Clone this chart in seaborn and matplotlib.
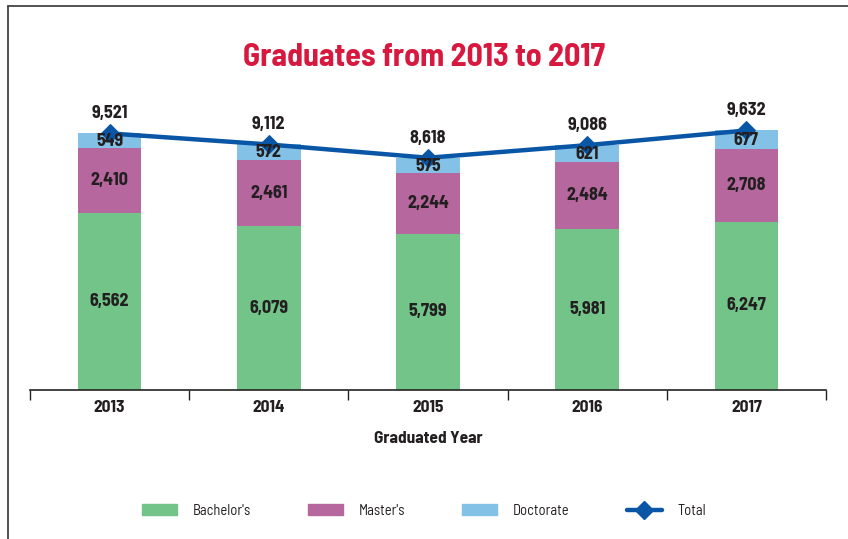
import numpy as np
import pandas as pd
import matplotlib
matplotlib.use("Agg")
import matplotlib.pyplot as plt
import seaborn as sns
from matplotlib.lines import Line2D
from matplotlib.patches import Patch

# Дані
years = ["2013", "2014", "2015", "2016", "2017"]
bachelors = [6562, 6079, 5799, 5981, 6247]
masters = [2410, 2461, 2244, 2484, 2708]
doctorate = [549, 572, 575, 621, 677]
totals = [9521, 9112, 8618, 9086, 9632]

GREEN = "#72C488"
PURPLE = "#B5679E"
BLUE = "#84C1E6"
LINE = "#0A56A6"
TITLE_RED = "#D7193F"
TXT = "#231F20"

sns.set_theme(style="white")
plt.rcParams['font.family'] = ['Barlow Semi Condensed', 'DejaVu Sans']

df = pd.DataFrame({"year": years, "Bachelor's": bachelors,
                   "Master's": masters, "Doctorate": doctorate, "Total": totals})
df["bm"] = df["Bachelor's"] + df["Master's"]
df["bmd"] = df["bm"] + df["Doctorate"]

fig = plt.figure(figsize=(8.48, 5.39), dpi=100)
ax = fig.add_axes([0.0354, 0.2764, 0.9386, 0.63])

# стовпці накладаються: спочатку повна висота
sns.barplot(data=df, x="year", y="bmd", color=BLUE, width=0.4, saturation=1, ax=ax)
sns.barplot(data=df, x="year", y="bm", color=PURPLE, width=0.4, saturation=1, ax=ax)
sns.barplot(data=df, x="year", y="Bachelor's", color=GREEN, width=0.4, saturation=1, ax=ax)
for p in ax.patches:
    p.set_edgecolor("none")

pos = np.arange(len(years))
sns.lineplot(x=pos, y=df["Total"], color=LINE, lw=3.2, marker="D", markersize=9,
             markeredgecolor=LINE, ax=ax)

# підписи сегментів
for i in range(len(years)):
    b, m, d, t = bachelors[i], masters[i], doctorate[i], totals[i]
    ax.text(i, b / 2, f"{b:,}", ha="center", va="center", fontsize=13,
            fontweight="bold", color=TXT)
    ax.text(i, b + m / 2, f"{m:,}", ha="center", va="center", fontsize=13,
            fontweight="bold", color=TXT)
    ax.text(i, b + m + d / 2 - 30, f"{d:,}", ha="center", va="center", fontsize=13,
            fontweight="bold", color=TXT)
    ax.annotate(f"{t:,}", (i, t), xytext=(0, 8), textcoords="offset points",
                ha="center", va="bottom", fontsize=13, fontweight="bold", color=TXT)

ax.set_xlim(-0.5, len(years) - 0.5)
ax.set_ylim(0, 12600)
ax.set_yticks([])
ax.set_ylabel("")
for s in ["left", "right", "top"]:
    ax.spines[s].set_visible(False)
ax.spines["bottom"].set_color("#222222")
ax.spines["bottom"].set_linewidth(1.2)

ax.set_xticks(pos)
ax.set_xticklabels(years, fontsize=12.5, fontweight="bold", color=TXT)
ax.set_xticks(np.arange(-0.5, len(years)), minor=True)
ax.tick_params(axis="x", which="major", length=0, pad=7)
ax.tick_params(axis="x", which="minor", length=7, width=1, color="#222222", direction="out",
               bottom=True)
ax.set_xlabel("Graduated Year", fontsize=12.5, fontweight="bold", color=TXT, labelpad=12)

fig.text(0.5, 0.894, "Graduates from 2013 to 2017", ha="center", va="center",
         fontsize=23, fontweight="bold", color=TITLE_RED)

handles = [Patch(color=GREEN, label="Bachelor's"),
           Patch(color=PURPLE, label="Master's"),
           Patch(color=BLUE, label="Doctorate"),
           Line2D([0], [0], color=LINE, lw=3.2, marker="D", markersize=9, label="Total")]
fig.legend(handles=handles, loc="center", bbox_to_anchor=(0.5, 0.052), ncol=4,
           frameon=False, fontsize=10.5, handlelength=2.4, handleheight=0.8,
           columnspacing=3.9, handletextpad=1.1, labelcolor=TXT)

# рамка
fig.add_artist(Line2D([8 / 848, 8 / 848], [0, 1 - 6 / 539], color="#444444", lw=1.3))
fig.add_artist(Line2D([8 / 848, 1], [1 - 6 / 539, 1 - 6 / 539], color="#444444", lw=1.3))

fig.savefig("out.png", dpi=100)
